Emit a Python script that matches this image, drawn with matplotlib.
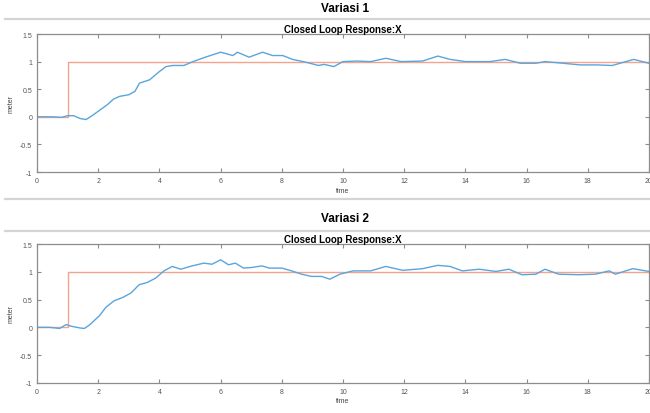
import matplotlib
matplotlib.use("Agg")
import matplotlib.pyplot as plt
from matplotlib.lines import Line2D

plt.rcParams["font.family"] = ["Liberation Sans", "DejaVu Sans"]

# Couleurs style MATLAB (un peu adoucies)
BLEU  = "#5aa5dc"
ROUGE = "#f4a48c"
GRIS  = "#d4d4d4"
AXE   = "#8c8c8c"

# Consigne (échelon à t = 1 s)
t_ref = [0, 1, 1, 20]
y_ref = [0, 0, 1, 1]

# Variasi 1 — réponse mesurée
t_v1 = [0, 0.5, 0.8, 1.0, 1.2, 1.4, 1.6, 1.8, 2.0, 2.3, 2.5, 2.7, 3.0, 3.2,
        3.35, 3.68, 4.0, 4.22, 4.44, 4.8, 5.1, 5.5, 6.0, 6.4, 6.55, 6.93,
        7.37, 7.7, 8.03, 8.35, 8.78, 9.2, 9.38, 9.7, 10.0, 10.46, 10.9,
        11.4, 11.9, 12.6, 13.1, 13.5, 14.0, 14.8, 15.3, 15.8, 16.3, 16.6,
        17.0, 17.75, 18.3, 18.8, 19.5, 20.0]
y_v1 = [0, 0.0, -0.01, 0.02, 0.02, -0.03, -0.05, 0.02, 0.1, 0.22, 0.32,
        0.37, 0.4, 0.46, 0.61, 0.67, 0.82, 0.91, 0.93, 0.93, 1.0, 1.08,
        1.17, 1.11, 1.17, 1.08, 1.17, 1.11, 1.11, 1.04, 0.99, 0.93, 0.95,
        0.91, 1.0, 1.01, 1.0, 1.06, 1.0, 1.01, 1.1, 1.04, 1.0, 1.0, 1.04,
        0.97, 0.97, 1.0, 0.98, 0.94, 0.94, 0.93, 1.04, 0.97]

# Variasi 2 — réponse mesurée
t_v2 = [0, 0.41, 0.74, 0.95, 1.12, 1.39, 1.55, 1.71, 2.04, 2.25, 2.52, 2.8,
        3.07, 3.34, 3.6, 3.88, 4.15, 4.42, 4.7, 5.0, 5.45, 5.72, 6.0, 6.26,
        6.48, 6.75, 7.0, 7.35, 7.6, 8.0, 8.32, 8.65, 8.97, 9.3, 9.57, 9.9,
        10.33, 10.9, 11.4, 11.95, 12.6, 13.1, 13.5, 13.9, 14.45, 15.0,
        15.42, 15.85, 16.3, 16.6, 17.05, 17.7, 18.25, 18.7, 18.9, 19.47,
        20.0]
y_v2 = [0, 0, -0.02, 0.05, 0.02, -0.01, -0.02, 0.04, 0.21, 0.36, 0.48,
        0.54, 0.62, 0.77, 0.81, 0.89, 1.02, 1.1, 1.05, 1.1, 1.16, 1.14,
        1.22, 1.13, 1.16, 1.07, 1.08, 1.11, 1.07, 1.07, 1.02, 0.96, 0.92,
        0.92, 0.87, 0.96, 1.02, 1.02, 1.1, 1.03, 1.06, 1.12, 1.1, 1.02,
        1.05, 1.01, 1.05, 0.95, 0.96, 1.05, 0.96, 0.95, 0.96, 1.02, 0.96,
        1.06, 1.01]

x_ticks = [0, 2, 4, 6, 8, 10, 12, 14, 16, 18, 20]
y_ticks = [-1, -0.5, 0, 0.5, 1, 1.5]
y_labels = ["-1", "-0.5", "0", "0.5", "1", "1.5"]

W, H = 650, 414
fig = plt.figure(figsize=(6.5, 4.14), dpi=100)
fig.patch.set_facecolor("white")


def ligne_h(y_px):
    fig.add_artist(Line2D([5 / W, 1], [1 - y_px / H, 1 - y_px / H],
                          color=GRIS, lw=1.6, transform=fig.transFigure))


def panneau(titre, t, y, top_px, bot_px, sep_px, titre_px):
    ligne_h(sep_px)
    fig.text(345 / W, 1 - titre_px / H, titre, ha="center", va="center",
             fontsize=8.5, fontweight="bold")
    ax = fig.add_axes([37 / W, 1 - bot_px / H, (649 - 37) / W,
                       (bot_px - top_px) / H])
    ax.plot(t_ref, y_ref, color=ROUGE, lw=1.0)
    ax.plot(t, y, color=BLEU, lw=1.0)
    ax.set_xlim(0, 20)
    ax.set_ylim(-1, 1.5)
    ax.set_xticks(x_ticks)
    ax.set_yticks(y_ticks)
    ax.set_yticklabels(y_labels)
    ax.tick_params(direction="in", top=True, right=True, length=3,
                   labelsize=5, colors=AXE, labelcolor="#555555", width=0.8)
    for s in ax.spines.values():
        s.set_edgecolor(AXE)
        s.set_linewidth(0.9)
    ax.set_title("Closed Loop Response:X", fontsize=7, fontweight="bold",
                 pad=1.5)
    ax.set_xlabel("time", fontsize=5, color="#444444", labelpad=2)
    ax.set_ylabel("meter", fontsize=5, color="#444444", labelpad=4)
    return ax


panneau("Variasi 1", t_v1, y_v1, 35, 173, 20, 9)
ligne_h(200)
panneau("Variasi 2", t_v2, y_v2, 245.3, 383.7, 232, 219)

fig.savefig("out.png", dpi=100, facecolor="white")
